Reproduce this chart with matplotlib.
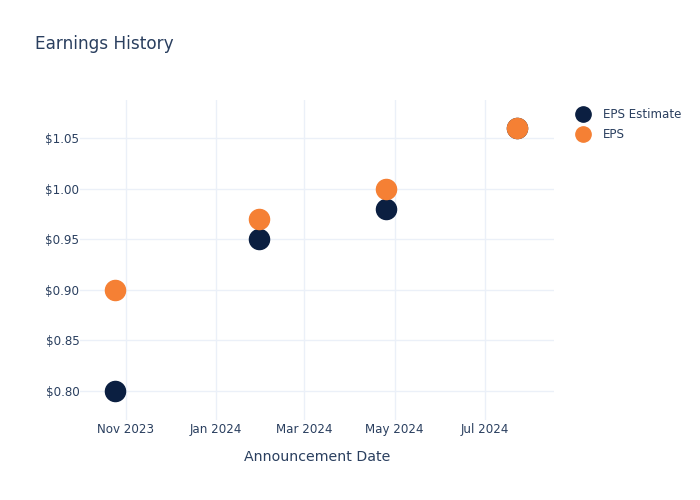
import matplotlib
matplotlib.use("Agg")
import matplotlib.pyplot as plt
import pandas as pd
from matplotlib.lines import Line2D

# data
dates = ["2023-10-25", "2024-01-30", "2024-04-25", "2024-07-23"]
eps_estimate = [0.80, 0.95, 0.98, 1.06]
eps_actual = [0.90, 0.97, 1.00, 1.06]
tick_dates = ["2023-11-01", "2024-01-01", "2024-03-01", "2024-05-01", "2024-07-01"]
tick_labels = ["Nov 2023", "Jan 2024", "Mar 2024", "May 2024", "Jul 2024"]
y_ticks = [0.80, 0.85, 0.90, 0.95, 1.00, 1.05]

navy = "#0b1f41"
orange = "#f58034"
txt = "#2a3f5f"
grid = "#ebf0f8"

plt.rcParams["font.family"] = ["DejaVu Sans"]

fig = plt.figure(figsize=(7, 5), dpi=100)
ax = fig.add_axes([80/700, 80/500, 474/700, 320/500])

x = pd.to_datetime(dates)
ax.scatter(x, eps_estimate, s=210, color=navy, zorder=3)
ax.scatter(x, eps_actual, s=210, color=orange, zorder=4)

ax.set_xlim(pd.Timestamp("2023-10-01"), pd.Timestamp("2024-08-17"))
ax.set_ylim(0.7713, 1.0879)

ax.set_xticks(pd.to_datetime(tick_dates))
ax.set_xticklabels(tick_labels)
ax.set_yticks(y_ticks)
ax.set_yticklabels(["$%.2f" % v for v in y_ticks])

ax.tick_params(length=0, labelsize=8.6, colors=txt)
ax.tick_params(axis="x", pad=2.5)
ax.tick_params(axis="y", pad=0.5)
ax.grid(True, color=grid, linewidth=1)
ax.set_axisbelow(True)
for s in ax.spines.values():
    s.set_visible(False)

ax.set_xlabel("Announcement Date", fontsize=10.2, color=txt, labelpad=9.5)
fig.text(35/700, 1 - 44/500, "Earnings History", fontsize=12.2, color=txt,
         va="center", ha="left")

handles = [
    Line2D([], [], marker="o", linestyle="", markersize=11, color=navy),
    Line2D([], [], marker="o", linestyle="", markersize=11, color=orange),
]
fig.legend(handles, ["EPS Estimate", "EPS"], loc="upper left",
           bbox_to_anchor=(574/700, 1 - 108/500), frameon=False,
           fontsize=8.6, labelcolor=txt, handletextpad=0.9,
           labelspacing=0.6, borderaxespad=0, borderpad=0, handlelength=1.5)

fig.savefig("out.png", dpi=100)
